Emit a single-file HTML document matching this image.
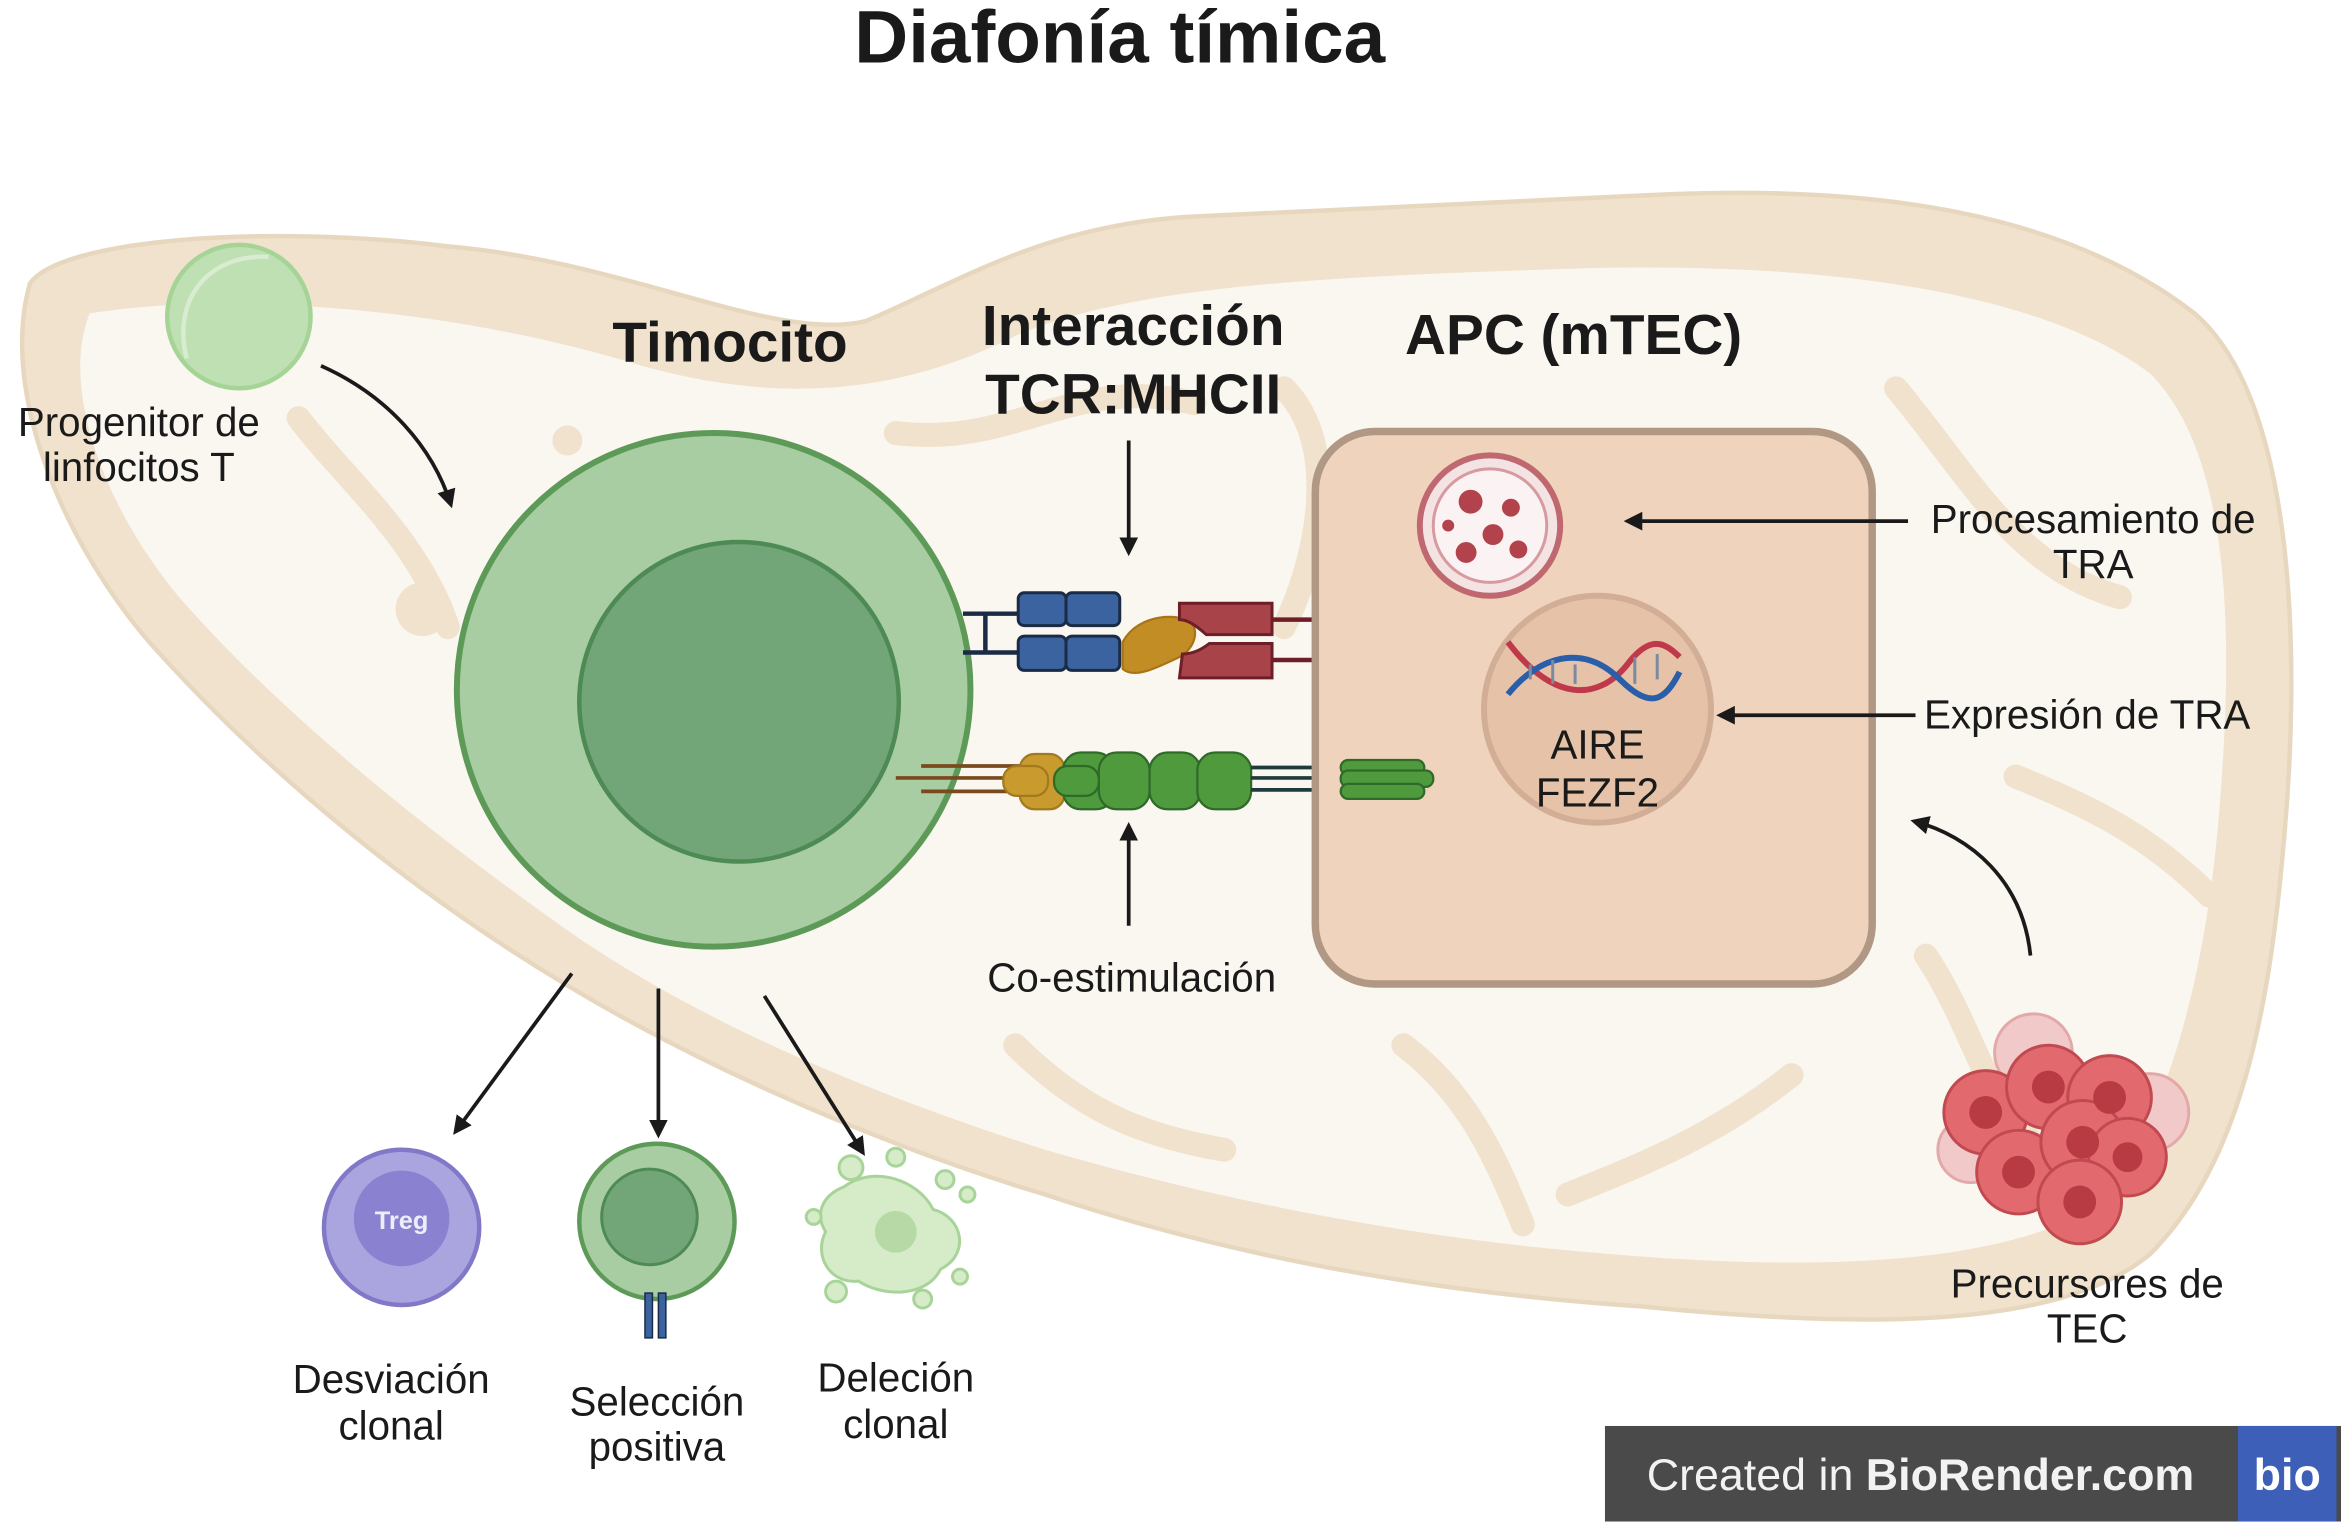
<!DOCTYPE html>
<html><head><meta charset="utf-8"><style>
html,body{margin:0;padding:0;background:#fff;}
svg{display:block;}
text{font-family:"Liberation Sans",sans-serif;fill:#1a1a1a;}
</style></head><body>
<svg width="2341" height="1526" viewBox="0 0 1568 1022" preserveAspectRatio="none" xmlns="http://www.w3.org/2000/svg">
<defs>
<marker id="ah" viewBox="0 0 10 10" refX="8" refY="5" markerWidth="5" markerHeight="5" orient="auto"><path d="M0,0 L10,5 L0,10 z" fill="#1a1a1a"/></marker>
</defs>
<rect width="1568" height="1022" fill="#fff"/>
<text x="750" y="42" font-size="50" font-weight="bold" text-anchor="middle">Diafonía tímica</text>

<path d="M20,190 C40,160 180,150 300,165 C420,175 520,230 580,215 C640,190 700,150 800,145 C900,140 1000,135 1120,130 C1250,125 1380,140 1470,210 C1540,270 1540,450 1530,560 C1520,680 1500,780 1440,840 C1380,890 1250,890 1100,875 C950,865 820,840 700,800 C600,770 480,720 380,660 C280,600 180,520 100,430 C40,360 0,260 20,190 Z" fill="#f0e2cd" stroke="#e8d7bf" stroke-width="3"/>
<path d="M60,210 C150,195 300,205 430,245 C520,270 600,265 680,225 C760,190 900,185 1050,180 C1200,175 1360,190 1440,250 C1500,310 1495,450 1485,560 C1475,660 1450,760 1400,810 C1330,850 1200,850 1080,840 C950,830 820,805 700,770 C590,735 480,690 390,630 C290,560 190,480 120,400 C70,340 40,260 60,210 Z" fill="#faf6f0"/>
<g fill="none" stroke="#f0e2cd" stroke-width="16" stroke-linecap="round">
<path d="M600,290 C680,300 720,250 800,270"/>
<path d="M860,260 C900,300 880,380 860,420"/>
<path d="M1270,260 C1320,320 1350,380 1420,400"/>
<path d="M1290,640 C1330,700 1330,760 1400,790"/>
<path d="M1200,720 C1150,760 1100,780 1050,800"/>
<path d="M200,280 C230,320 280,360 300,420"/>
<path d="M680,700 C720,740 760,760 820,770"/>
<path d="M940,700 C980,730 1000,770 1020,820"/>
<path d="M1350,520 C1400,540 1440,560 1480,600"/>
</g>
<circle cx="283" cy="408" r="18" fill="#f0e2cd"/>
<circle cx="380" cy="295" r="10" fill="#f0e2cd"/>

<circle cx="160" cy="212" r="48" fill="#bfe0b2" stroke="#a5d496" stroke-width="3"/>
<path d="M125,240 C115,200 140,170 180,172" fill="none" stroke="#d8eccf" stroke-width="3"/>
<text x="93" y="292" font-size="27" text-anchor="middle">Progenitor de</text>
<text x="93" y="322" font-size="27" text-anchor="middle">linfocitos T</text>
<path d="M215,245 C260,265 290,300 302,338" fill="none" stroke="#1a1a1a" stroke-width="2.5" marker-end="url(#ah)"/>

<text x="489" y="242" font-size="38" font-weight="bold" text-anchor="middle">Timocito</text>
<circle cx="478" cy="462" r="172" fill="#a8cda2" stroke="#5d9a58" stroke-width="4"/>
<circle cx="495" cy="470" r="107" fill="#72a679" stroke="#4e8a54" stroke-width="3"/>

<text x="759" y="231" font-size="38" font-weight="bold" text-anchor="middle">Interacción</text>
<text x="759" y="277" font-size="38" font-weight="bold" text-anchor="middle">TCR:MHCII</text>
<line x1="756" y1="295" x2="756" y2="370" stroke="#1a1a1a" stroke-width="2.5" marker-end="url(#ah)"/>
<g stroke="#1b2b45" stroke-width="3" fill="none">
<line x1="645" y1="411" x2="683" y2="411"/><line x1="645" y1="437" x2="683" y2="437"/><line x1="660" y1="411" x2="660" y2="437"/>
</g>
<g fill="#3a63a0" stroke="#1b2b45" stroke-width="2">
<rect x="682" y="397" width="32" height="22" rx="4"/><rect x="714" y="397" width="36" height="22" rx="4"/>
<rect x="682" y="426" width="32" height="23" rx="4"/><rect x="714" y="426" width="36" height="23" rx="4"/>
</g>
<path d="M752,430 C760,415 780,410 795,415 C805,420 800,435 790,440 C775,447 760,455 752,448 Z" fill="#c38d25" stroke="#a87417" stroke-width="1.5"/>
<g fill="#a8434a" stroke="#6e1e26" stroke-width="2">
<path d="M790,404 L852,404 L852,425 L808,425 C800,418 795,415 790,415 Z"/>
<path d="M792,438 C800,438 806,434 810,431 L852,431 L852,454 L790,454 Z"/>
</g>
<g stroke="#6e1e26" stroke-width="3"><line x1="852" y1="415" x2="880" y2="415"/><line x1="852" y1="442" x2="880" y2="442"/></g>

<g stroke="#7a4a1e" stroke-width="2.5"><line x1="617" y1="513" x2="690" y2="513"/><line x1="600" y1="521" x2="690" y2="521"/><line x1="617" y1="530" x2="690" y2="530"/></g>
<rect x="683" y="505" width="30" height="37" rx="10" fill="#c99a2e" stroke="#a27a1e" stroke-width="1.5"/>
<rect x="672" y="513" width="30" height="20" rx="9" fill="#c99a2e" stroke="#a27a1e" stroke-width="1.5"/>
<g fill="#4f9a3c" stroke="#2f6a2a" stroke-width="1.5">
<rect x="712" y="504" width="34" height="38" rx="12"/>
<rect x="736" y="504" width="34" height="38" rx="12"/>
<rect x="770" y="504" width="34" height="38" rx="12"/>
<rect x="802" y="504" width="36" height="38" rx="12"/>
<rect x="706" y="513" width="30" height="20" rx="9"/>
</g>
<g stroke="#1f3a3a" stroke-width="2.5"><line x1="838" y1="514" x2="900" y2="514"/><line x1="838" y1="521" x2="900" y2="521"/><line x1="838" y1="529" x2="900" y2="529"/></g>
<line x1="756" y1="620" x2="756" y2="553" stroke="#1a1a1a" stroke-width="2.5" marker-end="url(#ah)"/>
<text x="758" y="664" font-size="27" text-anchor="middle">Co-estimulación</text>

<text x="1054" y="237" font-size="38" font-weight="bold" text-anchor="middle">APC (mTEC)</text>
<rect x="881" y="289" width="373" height="370" rx="40" fill="#efd3bc" stroke="#b09884" stroke-width="5"/>
<g fill="#4f9a3c" stroke="#2f6a2a" stroke-width="1.5">
<rect x="898" y="509" width="56" height="10" rx="5"/><rect x="898" y="516" width="62" height="11" rx="5"/><rect x="898" y="525" width="56" height="10" rx="5"/>
</g>
<circle cx="998" cy="352" r="47" fill="#f4e3e3" stroke="#c06870" stroke-width="4"/>
<circle cx="998" cy="352" r="38" fill="#fbf3f3" stroke="#d79aa0" stroke-width="2"/>
<g fill="#b2434d"><circle cx="985" cy="336" r="8"/><circle cx="1012" cy="340" r="6"/><circle cx="1000" cy="358" r="7"/><circle cx="982" cy="370" r="7"/><circle cx="1017" cy="368" r="6"/><circle cx="970" cy="352" r="4"/></g>
<circle cx="1070" cy="475" r="76" fill="#e6c3a8" stroke="#d2ae96" stroke-width="4"/>
<path d="M1010,430 C1040,470 1070,470 1090,445 C1105,425 1115,430 1125,440" fill="none" stroke="#c0394a" stroke-width="4"/>
<path d="M1010,465 C1030,440 1060,430 1085,455 C1105,475 1115,470 1125,450" fill="none" stroke="#2b5ea8" stroke-width="4"/>
<g stroke="#7a8aa0" stroke-width="2"><line x1="1025" y1="445" x2="1025" y2="455"/><line x1="1040" y1="442" x2="1040" y2="458"/><line x1="1055" y1="445" x2="1055" y2="458"/><line x1="1095" y1="440" x2="1095" y2="458"/><line x1="1110" y1="438" x2="1110" y2="455"/></g>
<text x="1070" y="508" font-size="27" text-anchor="middle">AIRE</text>
<text x="1070" y="540" font-size="27" text-anchor="middle">FEZF2</text>

<line x1="1278" y1="349" x2="1090" y2="349" stroke="#1a1a1a" stroke-width="2.5" marker-end="url(#ah)"/>
<text x="1402" y="357" font-size="27" text-anchor="middle">Procesamiento de</text>
<text x="1402" y="387" font-size="27" text-anchor="middle">TRA</text>
<line x1="1283" y1="479" x2="1152" y2="479" stroke="#1a1a1a" stroke-width="2.5" marker-end="url(#ah)"/>
<text x="1398" y="488" font-size="27" text-anchor="middle">Expresión de TRA</text>
<path d="M1360,640 C1355,590 1320,560 1282,550" fill="none" stroke="#1a1a1a" stroke-width="2.5" marker-end="url(#ah)"/>

<g stroke="#e3a9a9" stroke-width="2" fill="#f2c9c9">
<circle cx="1362" cy="705" r="26"/><circle cx="1440" cy="745" r="26"/><circle cx="1320" cy="770" r="22"/>
</g>
<g fill="#e26a6e" stroke="#c04a50" stroke-width="2">
<circle cx="1330" cy="745" r="28"/><circle cx="1372" cy="728" r="28"/><circle cx="1413" cy="735" r="28"/>
<circle cx="1352" cy="785" r="28"/><circle cx="1395" cy="765" r="28"/><circle cx="1425" cy="775" r="26"/><circle cx="1393" cy="805" r="28"/>
</g>
<g fill="#b83a42"><circle cx="1330" cy="745" r="11"/><circle cx="1372" cy="728" r="11"/><circle cx="1413" cy="735" r="11"/><circle cx="1352" cy="785" r="11"/><circle cx="1395" cy="765" r="11"/><circle cx="1425" cy="775" r="10"/><circle cx="1393" cy="805" r="11"/></g>
<text x="1398" y="869" font-size="27" text-anchor="middle">Precursores de</text>
<text x="1398" y="899" font-size="27" text-anchor="middle">TEC</text>

<g stroke="#1a1a1a" stroke-width="2.5" marker-end="url(#ah)">
<line x1="383" y1="652" x2="305" y2="758"/>
<line x1="441" y1="662" x2="441" y2="760"/>
<line x1="512" y1="667" x2="578" y2="772"/>
</g>
<circle cx="269" cy="822" r="52" fill="#aaa4df" stroke="#8178c8" stroke-width="3"/>
<circle cx="269" cy="816" r="32" fill="#8a82d0"/>
<text x="269" y="823" font-size="17" font-weight="bold" text-anchor="middle" style="fill:#eeeefa">Treg</text>
<text x="262" y="933" font-size="27" text-anchor="middle">Desviación</text>
<text x="262" y="964" font-size="27" text-anchor="middle">clonal</text>

<circle cx="440" cy="818" r="52" fill="#a8cda2" stroke="#5d9a58" stroke-width="3"/>
<circle cx="435" cy="815" r="32" fill="#72a679" stroke="#4e8a54" stroke-width="2"/>
<rect x="432" y="866" width="5" height="30" fill="#3a63a0" stroke="#1b2b45"/><rect x="441" y="866" width="5" height="30" fill="#3a63a0" stroke="#1b2b45"/>
<text x="440" y="948" font-size="27" text-anchor="middle">Selección</text>
<text x="440" y="978" font-size="27" text-anchor="middle">positiva</text>

<g fill="#d6ecc8" stroke="#a8d49a" stroke-width="2">
<path d="M565,795 C585,780 615,790 625,810 C645,815 650,840 630,850 C620,870 590,868 575,858 C555,860 545,840 553,825 C545,812 552,800 565,795 Z"/>
<circle cx="570" cy="782" r="8"/><circle cx="633" cy="790" r="6"/><circle cx="648" cy="800" r="5"/><circle cx="545" cy="815" r="5"/><circle cx="560" cy="865" r="7"/><circle cx="618" cy="870" r="6"/><circle cx="643" cy="855" r="5"/><circle cx="600" cy="775" r="6"/>
</g>
<circle cx="600" cy="825" r="14" fill="#b6d9a6"/>
<text x="600" y="932" font-size="27" text-anchor="middle">Deleción</text>
<text x="600" y="963" font-size="27" text-anchor="middle">clonal</text>

<rect x="1075" y="955" width="493" height="64" fill="#4a4a4a"/>
<rect x="1499" y="955" width="66" height="64" fill="#3d5fb8"/>
<text x="1103" y="998" font-size="30" style="fill:#f2f2f2">Created in <tspan font-weight="bold">BioRender.com</tspan></text>
<text x="1532" y="998" font-size="30" font-weight="bold" text-anchor="middle" style="fill:#fff">bio</text>
</svg>
</body></html>
